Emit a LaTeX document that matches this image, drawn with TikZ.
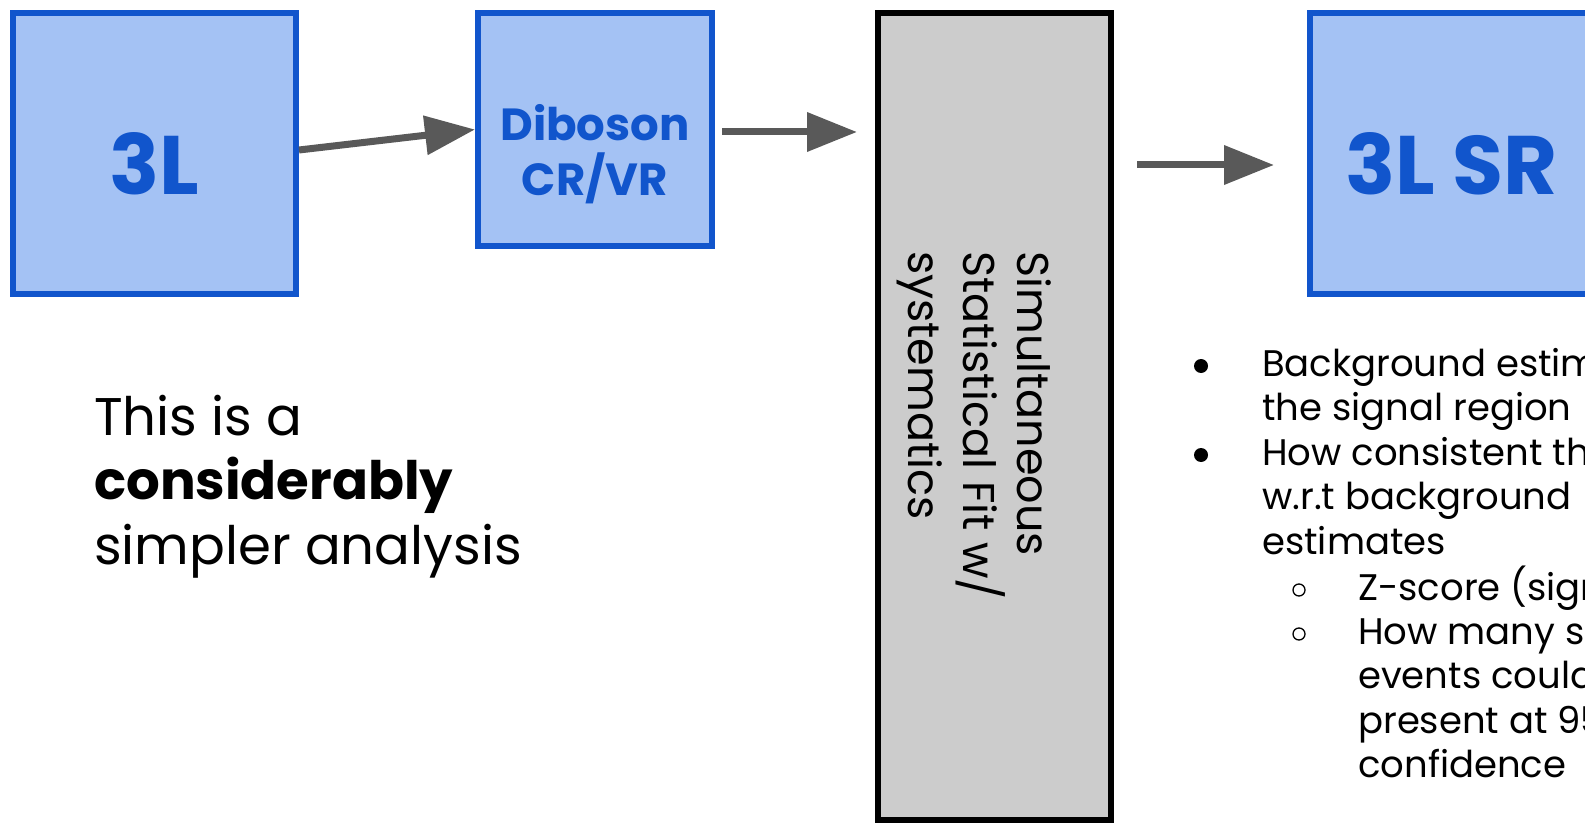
\documentclass[tikz,border=0pt]{standalone}
\usepackage{fontspec}
\setmainfont{Poppins}
\usetikzlibrary{positioning,arrows.meta,calc}
\definecolor{boxblue}{HTML}{1155CC}
\definecolor{boxfill}{HTML}{A4C2F4}
\definecolor{arrgray}{HTML}{595959}
\definecolor{fitgray}{HTML}{CCCCCC}

\begin{document}
\begin{tikzpicture}[x=1pt, y=-1pt,
  bluebox/.style={draw=boxblue, fill=boxfill, line width=6pt, minimum width=283pt},
  bigtxt/.style={text=boxblue, font=\fontsize{83}{100}\selectfont\bfseries, inner sep=0pt},
  midtxt/.style={text=boxblue, font=\fontsize{45}{55}\selectfont\bfseries, align=center, inner sep=0pt},
  arr/.style={draw=arrgray, line width=7pt, -{Triangle[length=50pt, width=38pt]}},
  listtxt/.style={font=\fontsize{37}{44.6}\selectfont, align=left, anchor=base west, inner sep=0pt}]
\useasboundingbox (0,0) rectangle (1585,826);
\clip (0,0) rectangle (1585,826);

\node[bluebox, minimum height=281pt, label={[bigtxt, yshift=-10pt]center:3L}] (tl) at (154.5,153.5) {};
\node[bluebox, minimum width=234pt, minimum height=233pt, label={[midtxt, yshift=-25pt]center:Diboson\\CR/VR}] (dib) at (595,129.5) {};
\node[draw=black, fill=fitgray, line width=6pt, minimum width=233pt, minimum height=807pt] (fit) at (994.5,416.5) {};
\node[rotate=-90, anchor=north west, inner sep=0pt, align=left,
  font=\fontsize{44.5}{54.5}\selectfont] (fittxt) at (1052,251) {Simultaneous\\Statistical Fit w/\\systematics};
\node[bluebox, minimum height=281pt, label={[bigtxt, yshift=-10pt]center:3L SR}] (sr) at (1451.5,153.5) {};

\draw[arr] ([yshift=3.5pt]tl.east) -- (dib.west);
\draw[arr] ($(dib.east)+(7,2.5)$) -- ($(fit.west |- dib.east)+(-18,2.5)$);
\draw[arr] ($(fit.east |- sr.west)+(23,11.5)$) -- ($(sr.west)+(-33,11.5)$);

% left remark (placed by its last baseline)
\node[font=\fontsize{53}{64.5}\selectfont, align=left, anchor=base west, inner sep=0pt] (note) at (94,564)
  {This is a\\\textbf{considerably}\\simpler analysis};

% outcome list (each placed by its last baseline)
\node[listtxt] (bkg) at (1262,420.6) {Background estimates in\\the signal region};
\node[listtxt] (cons) at (1262,554.2) {How consistent the data is\\w.r.t background\\estimates};
\node[listtxt] (zsc) at (1358,600) {Z-score (significance)};
\node[listtxt] (nsig) at (1358,777.8) {How many signal\\events could be\\present at 95\%\\confidence};
\fill (1201,366) circle (7pt);
\fill (1201,455) circle (7pt);
\draw[line width=1.3pt] (1299,590) circle (6pt);
\draw[line width=1.3pt] (1299,634) circle (6pt);
\end{tikzpicture}
\end{document}
